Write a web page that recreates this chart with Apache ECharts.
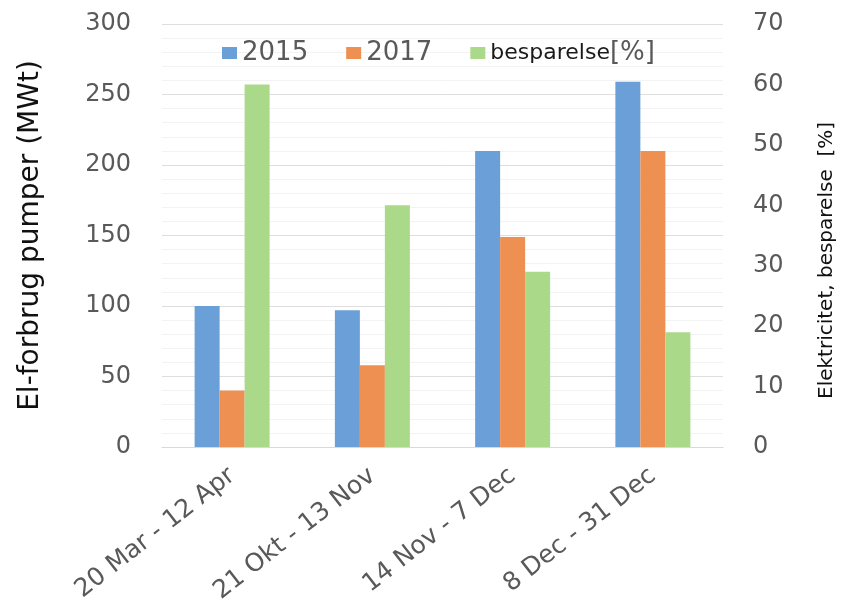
<!DOCTYPE html>
<html>
<head>
<meta charset="utf-8">
<script src="https://cdn.jsdelivr.net/npm/echarts@6/dist/echarts.min.js"></script>
<style>
html, body { margin: 0; padding: 0; background: #fff; }
#main { width: 842px; height: 611px; }
</style>
</head>
<body>
<div id="main"></div>
<script>
// data
var periods = ['20 Mar - 12 Apr', '21 Okt - 13 Nov', '14 Nov - 7 Dec', '8 Dec - 31 Dec'];
var values2015 = [100, 97, 210, 259];
var values2017 = [40, 58, 149, 210];
var besparelse = [60, 40, 29, 19];
var leftTicks = [0, 300, 50];   // min, max, step
var rightTicks = [0, 70, 10];

var chart = echarts.init(document.getElementById('main'));

var font = 'DejaVu Sans';

var option = {
  animation: false,
  textStyle: { fontFamily: font },
  legend: {
    top: 35,
    left: 217,
    itemWidth: 15,
    itemHeight: 12,
    itemGap: 38,
    icon: 'rect',
    data: ['2015', '2017', 'besparelse[%]'],
    formatter: function(name) {
      if (name === 'besparelse[%]') return '{b|besparelse}{p|[%]}';
      return name;
    },
    textStyle: {
      fontFamily: font, fontSize: 26, color: '#595959',
      rich: {
        b: { fontFamily: font, fontSize: 22, color: '#1a1a1a' },
        p: { fontFamily: font, fontSize: 26, color: '#595959' }
      }
    }
  },
  grid: { left: 162, right: 119, top: 24, bottom: 164, outerBoundsMode: 'none' },
  xAxis: {
    type: 'category',
    data: periods,
    axisLine: { lineStyle: { color: '#d9d9d9' } },
    axisTick: { show: false },
    axisLabel: { rotate: 38, fontFamily: font, fontSize: 25, color: '#595959', margin: 26 }
  },
  yAxis: [{
    type: 'value',
    min: leftTicks[0], max: leftTicks[1], interval: leftTicks[2],
    name: 'El-forbrug pumper (MWt)',
    nameLocation: 'middle',
    nameGap: 117,
    nameTextStyle: { fontFamily: font, fontSize: 28, color: '#111' },
    axisLabel: { fontFamily: font, fontSize: 24, color: '#595959', margin: 31 },
    axisLine: { show: false },
    axisTick: { show: false },
    splitLine: { lineStyle: { color: '#dedede' } },
    minorTick: { show: false, splitNumber: 5 },
    minorSplitLine: { show: true, lineStyle: { color: '#f3f3f3' } }
  }, {
    type: 'value',
    min: rightTicks[0], max: rightTicks[1], interval: rightTicks[2],
    name: 'Elektricitet, besparelse  [%]',
    nameLocation: 'middle',
    nameGap: 94,
    nameRotate: 90,
    nameTextStyle: { fontFamily: font, fontSize: 20, color: '#111', padding: [0, 50, 0, 0] },
    axisLabel: { fontFamily: font, fontSize: 24, color: '#595959', margin: 30 },
    axisLine: { show: false },
    axisTick: { show: false },
    splitLine: { show: false }
  }],
  series: [{
    name: '2015', type: 'bar', yAxisIndex: 0,
    data: values2015, barWidth: 25, barGap: '0%',
    itemStyle: { color: '#6A9FD8' }
  }, {
    name: '2017', type: 'bar', yAxisIndex: 0,
    data: values2017, barWidth: 25, barGap: '0%',
    itemStyle: { color: '#EE9052' }
  }, {
    name: 'besparelse[%]', type: 'bar', yAxisIndex: 1,
    data: besparelse, barWidth: 25, barGap: '0%',
    itemStyle: { color: '#AAD98A' }
  }]
};

chart.setOption(option);
</script>
</body>
</html>
